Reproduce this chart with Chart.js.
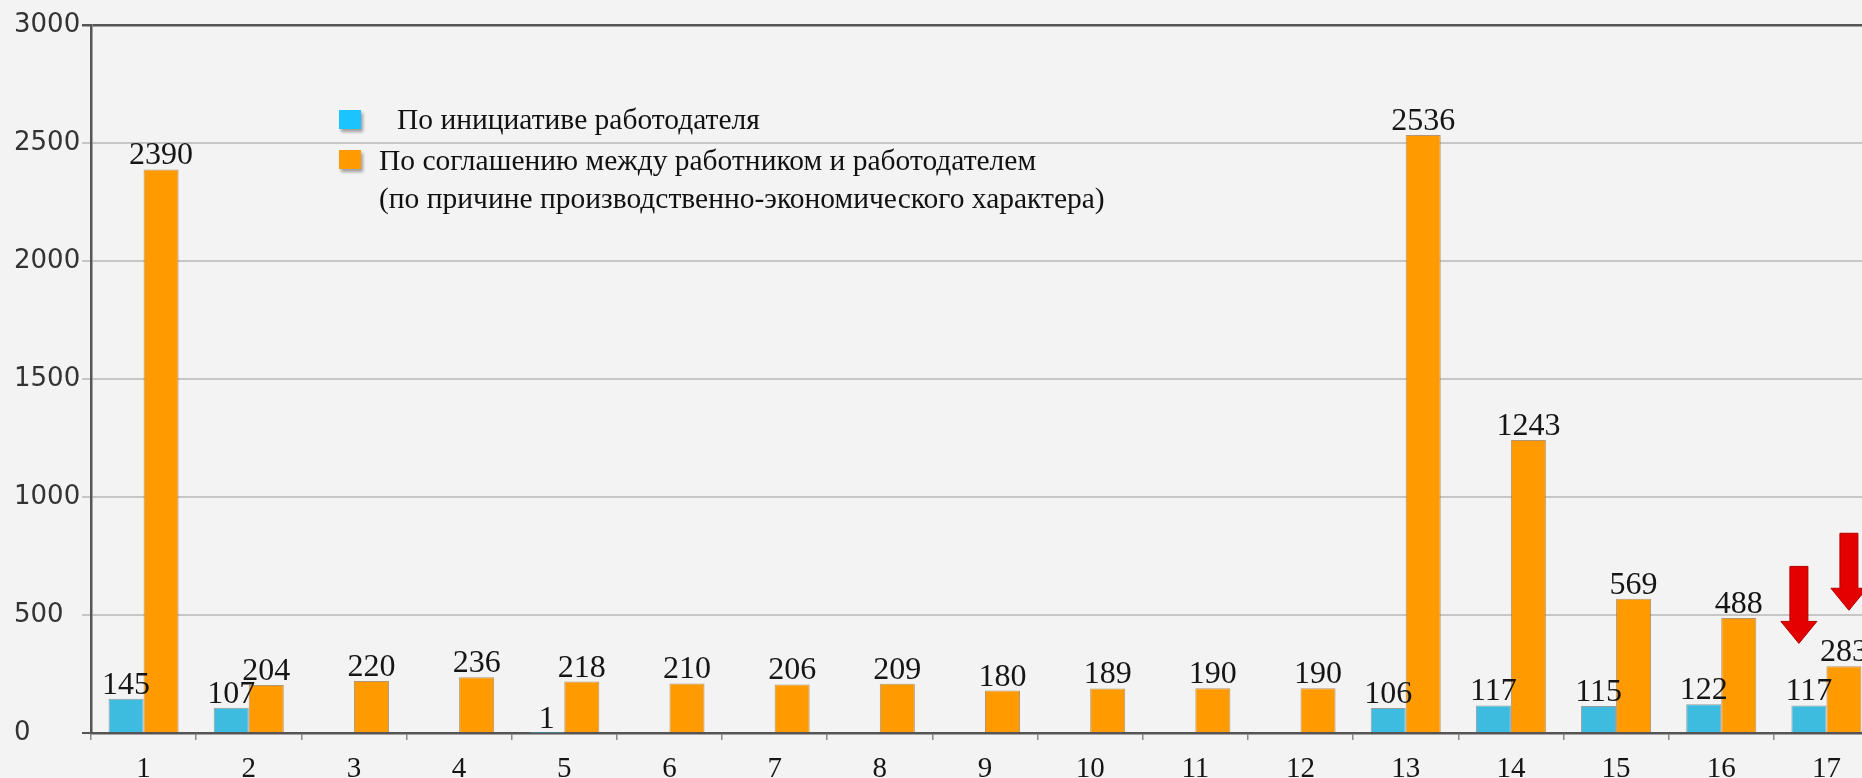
<!DOCTYPE html>
<html>
<head>
<meta charset="utf-8">
<script src="https://cdn.jsdelivr.net/npm/chart.js@4"></script>
<style>
  html, body { margin: 0; padding: 0; overflow: hidden; background: #f3f3f3; }
  #wrap { position: relative; width: 1862px; height: 778px; overflow: hidden; }
  canvas { position: absolute; left: 0; top: 0; }
  .legend { position: absolute; font-family: "Liberation Serif", serif; font-size: 29.5px; color: #111; line-height: 38px; white-space: nowrap; }
  .sq { position: absolute; width: 22px; height: 19px; box-shadow: 2px 3px 3px rgba(0,0,0,0.35); }
</style>
</head>
<body>
<div id="wrap">
  <canvas id="chart" width="1881" height="778"></canvas>
  <div class="sq" style="left:339px; top:110px; background:#1bc3ff;"></div>
  <div class="sq" style="left:339px; top:150px; background:#ff9a00;"></div>
  <div class="legend" style="left:397px; top:100px;">По инициативе работодателя</div>
  <div class="legend" style="left:379px; top:141px;">По соглашению между работником и работодателем<br>(по причине производственно-экономического характера)</div>
</div>
<script>
const categories = ["1", "2", "3", "4", "5", "6", "7", "8", "9", "10", "11", "12", "13", "14", "15", "16", "17"];
const employerInitiative = [145, 107, null, null, 1, null, null, null, null, null, null, null, 106, 117, 115, 122, 117];
const mutualAgreement = [2390, 204, 220, 236, 218, 210, 206, 209, 180, 189, 190, 190, 2536, 1243, 569, 488, 283];
const seriesNames = ["По инициативе работодателя", "По соглашению между работником и работодателем (по причине производственно-экономического характера)"];
const yTicks = [0, 500, 1000, 1500, 2000, 2500, 3000];

// value labels above each bar
const valueLabels = {
  id: "valueLabels",
  afterDatasetsDraw(chart) {
    const ctx = chart.ctx;
    ctx.save();
    ctx.font = "32px 'Liberation Serif'";
    ctx.fillStyle = "#151515";
    ctx.textAlign = "center";
    ctx.textBaseline = "alphabetic";
    chart.data.datasets.forEach((ds, i) => {
      chart.getDatasetMeta(i).data.forEach((bar, j) => {
        const v = ds.data[j];
        if (v == null) return;
        ctx.fillText(String(v), bar.x, bar.y - 5);
      });
    });
    ctx.restore();
  },
};

// the two red arrows pointing at the last group
const arrows = {
  id: "arrows",
  afterDraw(chart) {
    const ctx = chart.ctx;
    const marks = [
      { ds: 0, idx: 16, dx: -10, gap: 62 },
      { ds: 1, idx: 16, dx: 5, gap: 56 },
    ];
    ctx.save();
    ctx.fillStyle = "#e50000";
    ctx.strokeStyle = "#b00000";
    ctx.lineWidth = 1;
    marks.forEach((m) => {
      const bar = chart.getDatasetMeta(m.ds).data[m.idx];
      const cx = bar.x + m.dx;
      const tip = bar.y - m.gap;
      ctx.beginPath();
      ctx.moveTo(cx - 9, tip - 77);
      ctx.lineTo(cx + 9, tip - 77);
      ctx.lineTo(cx + 9, tip - 22);
      ctx.lineTo(cx + 18, tip - 22);
      ctx.lineTo(cx, tip);
      ctx.lineTo(cx - 18, tip - 22);
      ctx.lineTo(cx - 9, tip - 22);
      ctx.closePath();
      ctx.fill();
      ctx.stroke();
    });
    ctx.restore();
  },
};

new Chart(document.getElementById("chart"), {
  type: "bar",
  data: {
    labels: categories,
    datasets: [
      {
        label: seriesNames[0],
        data: employerInitiative,
        backgroundColor: "#3dbce0",
        borderColor: "rgba(110,120,120,0.7)",
        borderWidth: 1,
      },
      {
        label: seriesNames[1],
        data: mutualAgreement,
        backgroundColor: "#ff9a00",
        borderColor: "rgba(150,110,60,0.7)",
        borderWidth: 1,
      },
    ],
  },
  options: {
    responsive: false,
    animation: false,
    categoryPercentage: 0.666,
    barPercentage: 1.0,
    layout: { padding: { top: 25, right: 2, left: 14, bottom: 0 } },
    plugins: {
      legend: { display: false },
      tooltip: { enabled: false },
    },
    scales: {
      x: {
        afterFit: (s) => { s.height = 45; },
        border: { display: true, color: "#555", width: 2.5 },
        grid: { drawOnChartArea: false, drawTicks: true, tickLength: 7, color: "#888", lineWidth: 1.5 },
        ticks: {
          padding: 12,
          color: "#151515",
          maxRotation: 0,
          font: { family: "'Liberation Serif'", size: 29 },
        },
      },
      y: {
        min: 0,
        max: 3000,
        afterFit: (s) => { s.width = 77; },
        afterBuildTicks: (s) => { s.ticks = yTicks.map((v) => ({ value: v })); },
        border: { display: true, color: "#555", width: 2.5 },
        grid: {
          tickLength: 9,
          color: (c) => (c.tick && (c.tick.value === 3000 || c.tick.value === 0) ? "#555" : "#c6c6c6"),
          lineWidth: (c) => (c.tick && c.tick.value === 3000 ? 2.5 : 2),
        },
        ticks: {
          crossAlign: "far",
          padding: 10,
          color: "#333",
          font: { family: "'DejaVu Sans'", size: 26 },
          callback: (v) => String(v),
        },
      },
    },
  },
  plugins: [valueLabels, arrows],
});
</script>
</body>
</html>
